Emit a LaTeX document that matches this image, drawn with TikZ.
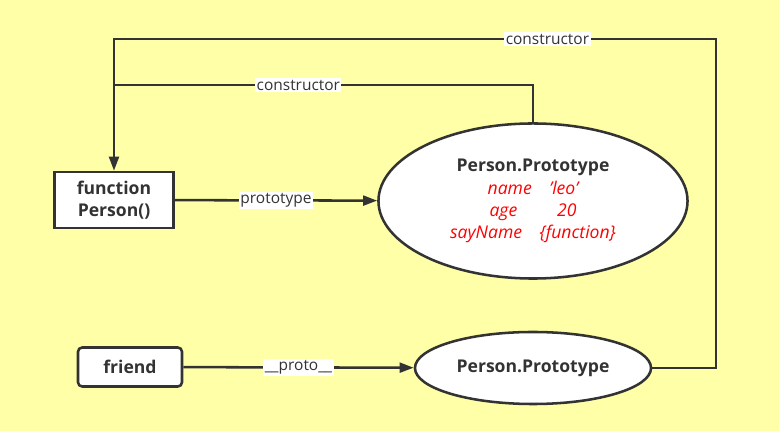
\documentclass[tikz,border=0pt]{standalone}
\usepackage{fontspec}
\setmainfont{Open Sans}
\usetikzlibrary{arrows.meta,shapes.geometric}
\definecolor{bgyellow}{RGB}{255,255,168}
\definecolor{linegray}{RGB}{51,51,51}

\begin{document}
\begin{tikzpicture}[x=0.025cm,y=-0.025cm, line width=1.8pt, color=linegray,
  fnbox/.style={draw, fill=white, inner sep=0pt, align=center,
    minimum width=2.975cm, minimum height=1.4cm, font=\bfseries\fontsize{12.5}{16}\selectfont},
  objbox/.style={draw, fill=white, rounded corners=3pt, inner sep=0pt,
    minimum width=2.6cm, minimum height=0.975cm, font=\bfseries\fontsize{12.5}{16}\selectfont},
  protoell/.style={draw, fill=white, ellipse, inner sep=0pt, align=center,
    font=\fontsize{12.5}{15.8}\selectfont},
  lbl/.style={fill=white, inner sep=1pt, text=linegray, font=\fontsize{11}{13}\selectfont},
  arr/.style={-{Triangle[length=10pt,width=7pt]}}
]
\fill[bgyellow] (0,0) rectangle (779,431);

\def \gap {\quad}

% nodes
\node[fnbox] (fn) at (114,200) {function\\Person()};
\node[protoell, minimum width=7.725cm, minimum height=3.875cm] (proto) at (533,201)
  {\textbf{Person.Prototype}\\
   \textcolor{red}{\itshape name\gap 'leo'}\\
   \textcolor{red}{\itshape age\gap\quad\ 20}\\
   \textcolor{red}{\itshape sayName\gap \{function\}}};
\node[objbox] (friend) at (130,367) {friend};
\node[protoell, minimum width=5.9cm, minimum height=1.8cm, font=\bfseries\fontsize{12.5}{16}\selectfont]
  (proto2) at (533,368) {Person.Prototype};

\coordinate (innerjoin) at (114,85);
\coordinate (topleft) at (114,39);
\coordinate (topright) at (716,39);

% connectors
\draw[arr] (fn) -- node[lbl] {prototype} (proto);
\draw[arr] (friend) -- node[lbl] {\_\_proto\_\_} (proto2);
\draw (proto.north) |- node[lbl, pos=0.78] {constructor} (innerjoin);
\draw[arr] (proto2.east) -| (topright) -- node[lbl, pos=0.28] {constructor} (topleft) -- (fn.north);
\end{tikzpicture}
\end{document}
